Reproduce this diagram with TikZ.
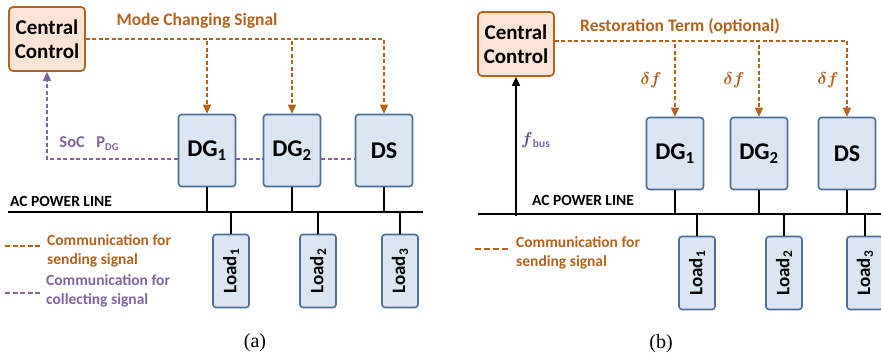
\documentclass[tikz,border=0pt]{standalone}
\usepackage{amsmath}
\usepackage{fontspec}
\setmainfont{Carlito}
\newfontfamily\capfont{Liberation Serif}
\usetikzlibrary{arrows.meta}
\definecolor{ordk}{HTML}{B5621C}
\definecolor{orlt}{HTML}{FCE4D6}
\definecolor{bldk}{HTML}{4F6F96}
\definecolor{bllt}{HTML}{DCE6F2}
\definecolor{purp}{HTML}{8064A2}
\tikzset{
  ctrlbox/.style={draw=ordk, fill=orlt, rounded corners=4pt, line width=1.7pt,
    font=\bfseries\fontsize{21}{24}\selectfont, align=center,
    minimum width=76pt, minimum height=64pt, inner sep=0pt},
  unitbox/.style={draw=bldk, fill=bllt, rounded corners=3pt, line width=1.6pt,
    font=\bfseries\fontsize{24}{26}\selectfont, minimum width=57pt, minimum height=72pt, inner sep=0pt},
  loadbox/.style={draw=bldk, fill=bllt, rounded corners=3pt, line width=1.6pt,
    font=\bfseries\fontsize{19}{21}\selectfont, minimum width=73pt, minimum height=36pt,
    inner sep=0pt, rotate=90},
  sendline/.style={draw=ordk, line width=1.5pt, dash pattern=on 4pt off 2.5pt},
  sendarrow/.style={sendline, -{Triangle[length=9pt,width=8pt]}},
  collline/.style={draw=purp, line width=1.5pt, dash pattern=on 4pt off 2.5pt},
  power/.style={draw=black, line width=2.4pt},
  tap/.style={draw=black, line width=1.5pt},
  otext/.style={text=ordk, font=\bfseries\fontsize{17.5}{20}\selectfont},
  legtext/.style={font=\bfseries\fontsize{15.5}{18.5}\selectfont, align=left, anchor=west, inner sep=0pt},
  acl/.style={font=\bfseries\fontsize{15.5}{18}\selectfont, anchor=west, inner sep=0pt},
  captext/.style={font=\capfont\fontsize{20}{22}\selectfont}
}
\begin{document}
\begin{tikzpicture}[x=1pt,y=-1pt]
\useasboundingbox (0,0) rectangle (881,358);
% ---------------- (a) ----------------
\node[ctrlbox] (cca) at (47,39) {Central\\Control};
\node[unitbox] (dg1a) at (207,150.5) {DG\textsubscript{1}};
\node[unitbox] (dg2a) at (292,150.5) {DG\textsubscript{2}};
\node[unitbox] (dsa) at (384,150.5) {DS};
\node[otext] (mcs) at (197,21) {Mode Changing Signal};
\draw[sendarrow] (cca.east) -| (dg1a.north);
\draw[sendarrow] (cca.east) -| (dg2a.north);
\draw[sendarrow] (cca.east) -| (dsa.north);
\draw[collline, -{Triangle[length=9pt,width=8pt]}] ([yshift=-8.5pt]dg1a.west) -| (cca.south);
\draw[collline] ([yshift=-8.5pt]dg1a.east) -- ([yshift=-8.5pt]dg2a.west);
\draw[collline] ([yshift=-8.5pt]dg2a.east) -- ([yshift=-8.5pt]dsa.west);
\node[text=purp, font=\bfseries\fontsize{16.5}{18}\selectfont] (soc) at (89,144) {SoC\hspace{0.7em}P\raisebox{-3pt}{\fontsize{10.5}{10}\selectfont DG}};
\coordinate (pla) at (8,212);
\coordinate (pra) at (423,212);
\draw[power] (pla) -- (pra);
\node[acl] (acla) at (10,201) {AC POWER LINE};
\draw[tap] (dg1a.south) -- (dg1a.south |- pla);
\draw[tap] (dg2a.south) -- (dg2a.south |- pla);
\draw[tap] (dsa.south) -- (dsa.south |- pla);
\node[loadbox] (l1a) at (231,271) {Load\textsubscript{1}};
\node[loadbox] (l2a) at (318,271) {Load\textsubscript{2}};
\node[loadbox] (l3a) at (400,271) {Load\textsubscript{3}};
\draw[tap] (l1a.east) -- (l1a.east |- pla);
\draw[tap] (l2a.east) -- (l2a.east |- pla);
\draw[tap] (l3a.east) -- (l3a.east |- pla);
% legend (a)
\coordinate (lsa1) at (5,246); \coordinate (lsa2) at (42,246);
\draw[draw=ordk, line width=1.4pt, dash pattern=on 5pt off 2.5pt] (lsa1) -- (lsa2);
\node[legtext, text=ordk] (lta) at (47,251) {Communication for\\sending signal};
\coordinate (lca1) at (5,293); \coordinate (lca2) at (42,293);
\draw[draw=purp, line width=1.4pt, dash pattern=on 5pt off 2.5pt] (lca1) -- (lca2);
\node[legtext, text=purp] (lca) at (46,291) {Communication for\\collecting signal};
\node[captext] (capa) at (255,343) {(a)};
% ---------------- (b) ----------------
\node[ctrlbox] (ccb) at (516,44) {Central\\Control};
\node[unitbox] (dg1b) at (675,153.5) {DG\textsubscript{1}};
\node[unitbox] (dg2b) at (759,153.5) {DG\textsubscript{2}};
\node[unitbox] (dsb) at (847,153.5) {DS};
\node[otext] (rt) at (680,26) {Restoration Term (optional)};
\draw[sendarrow] ([yshift=3pt]ccb.east) -| (dg1b.north);
\draw[sendarrow] ([yshift=3pt]ccb.east) -| (dg2b.north);
\draw[sendarrow] ([yshift=3pt]ccb.east) -| (dsb.north);
\node[text=ordk, font=\fontsize{19}{20}\selectfont] (df1) at (651,80) {$\boldsymbol{\delta f}$};
\node[text=ordk, font=\fontsize{19}{20}\selectfont] (df2) at (734,80) {$\boldsymbol{\delta f}$};
\node[text=ordk, font=\fontsize{19}{20}\selectfont] (df3) at (828,80) {$\boldsymbol{\delta f}$};
\coordinate (plb) at (478,214);
\coordinate (prb) at (881,214);
\draw[power] (plb) -- (prb);
\coordinate (fb0) at (516,216);
\draw[line width=1.5pt, -{Triangle[length=9pt,width=8pt]}] (fb0) -- (ccb.south);
\node[text=purp!80!black, font=\fontsize{19}{20}\selectfont, anchor=west, inner sep=0pt] (fbus) at (521,140) {$\boldsymbol{f}$\raisebox{-3pt}{\bfseries\fontsize{11.5}{11}\selectfont\color{purp} bus}};
\node[acl] (aclb) at (532,200) {AC POWER LINE};
\draw[tap] (dg1b.south) -- (dg1b.south |- plb);
\draw[tap] (dg2b.south) -- (dg2b.south |- plb);
\draw[tap] (dsb.south) -- (dsb.south |- plb);
\node[loadbox] (l1b) at (697,273) {Load\textsubscript{1}};
\node[loadbox] (l2b) at (784,273) {Load\textsubscript{2}};
\node[loadbox] (l3b) at (865,273) {Load\textsubscript{3}};
\draw[tap] (l1b.east) -- (l1b.east |- plb);
\draw[tap] (l2b.east) -- (l2b.east |- plb);
\draw[tap] (l3b.east) -- (l3b.east |- plb);
% legend (b)
\coordinate (lsb1) at (475,249); \coordinate (lsb2) at (510,249);
\draw[draw=ordk, line width=1.4pt, dash pattern=on 6pt off 3pt] (lsb1) -- (lsb2);
\node[legtext, text=ordk] (ltb) at (516,253) {Communication for\\sending signal};
\node[captext] (capb) at (661,344) {(b)};
\end{tikzpicture}
\end{document}
